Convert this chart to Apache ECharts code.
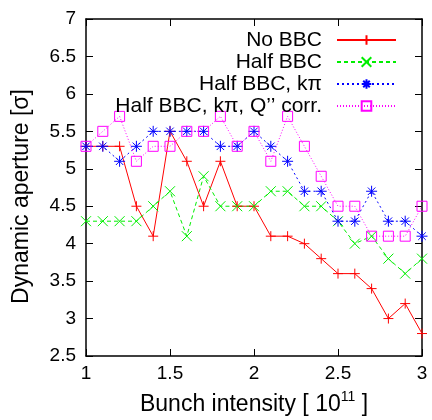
<!DOCTYPE html>
<html><head><meta charset="utf-8">
<script src="https://cdn.jsdelivr.net/npm/echarts@6/dist/echarts.min.js"></script>
<style>html,body{margin:0;padding:0;background:#fff}#c{width:432px;height:420px}</style>
</head><body><div id="c"></div>
<script>
const intensity = [1.0,1.1,1.2,1.3,1.4,1.5,1.6,1.7,1.8,1.9,2.0,2.1,2.2,2.3,2.4,2.5,2.6,2.7,2.8,2.9,3.0];
const noBBC   = [5.3,5.3,5.3,4.5,4.1,5.5,5.1,4.5,5.1,4.5,4.5,4.1,4.1,4.0,3.8,3.6,3.6,3.4,3.0,3.2,2.8];
const halfBBC = [4.3,4.3,4.3,4.3,4.5,4.7,4.1,4.9,4.5,4.5,4.5,4.7,4.7,4.5,4.5,4.3,4.0,4.1,3.8,3.6,3.8];
const halfKpi = [5.3,5.3,5.1,5.3,5.5,5.5,5.5,5.5,5.3,5.3,5.5,5.3,5.1,4.7,4.7,4.3,4.3,4.7,4.3,4.3,4.1];
const halfKpiQ= [5.3,5.5,5.7,5.1,5.3,5.3,5.5,5.5,5.7,5.3,5.5,5.1,5.7,5.3,4.9,4.5,4.5,4.1,4.1,4.1,4.5];
const seriesNames = ['No BBC','Half BBC','Half BBC, k\u03c0','Half BBC, k\u03c0, Q\u2019\u2019 corr.'];
const xTicks = {min:1, max:3, step:0.5};
const yTicks = {min:2.5, max:7, step:0.5};

const FONT = '"Liberation Sans", Arial, Helvetica, sans-serif';
const pair = a => intensity.map((x,i)=>[x,a[i]]);
const PLUS = 'path://M5,0V10M0,5H10';
const CROSS = 'path://M0,0L10,10M10,0L0,10';
const STAR = 'path://M5,0V10M0,5H10M1.6,1.6L8.4,8.4M8.4,1.6L1.6,8.4';

function mk(name, data, color, sym, size, dash, fill){
  return {
    name, type:'line', data:pair(data), symbol:sym, symbolSize:size,
    lineStyle:{color, width:1, type:dash},
    itemStyle:{color: fill, borderColor:color, borderWidth:1},
    emphasis:{disabled:true}, animation:false, z: 2
  };
}
const chart = echarts.init(document.getElementById('c'), null, {renderer:'canvas'});
const axisCommon = {
  axisLine:{show:true, onZero:false, lineStyle:{color:'#000', width:1.5}},
  axisTick:{show:true, inside:true, length:7, lineStyle:{color:'#000', width:1}},
  splitLine:{show:false}
};
chart.setOption({
  animation:false,
  grid:{left:86, right:10, top:19, bottom:64, containLabel:false, outerBoundsMode:'none'},
  legend:{
    orient:'vertical', align:'right', right:30, top:24,
    itemWidth:59, itemHeight:12, itemGap:0,
    textStyle:{fontFamily:FONT, fontSize:21, color:'#000', lineHeight:22, padding:[0,10,0,0]},
    data:seriesNames
  },
  xAxis:[
    Object.assign({type:'value', min:xTicks.min, max:xTicks.max, interval:xTicks.step, position:'bottom',
      name:'{a|Bunch intensity [ 10}{s|11}{a| ]}', nameLocation:'middle', nameGap:34,
      nameTextStyle:{rich:{
        a:{fontFamily:FONT, fontSize:23, color:'#000', lineHeight:26, verticalAlign:'bottom'},
        s:{fontFamily:FONT, fontSize:14, color:'#000', lineHeight:12, verticalAlign:'top'}}},
      axisLabel:{fontFamily:FONT, fontSize:19, color:'#000', margin:8}}, axisCommon),
    Object.assign({type:'value', min:xTicks.min, max:xTicks.max, interval:xTicks.step, position:'top',
      axisLabel:{show:false}}, axisCommon)
  ],
  yAxis:[
    Object.assign({type:'value', min:yTicks.min, max:yTicks.max, interval:yTicks.step, position:'left',
      name:'{a|Dynamic aperture [\u03c3]}{p|}', nameLocation:'middle', nameGap:53, nameRotate:90,
      nameTextStyle:{rich:{a:{fontFamily:FONT, fontSize:23, color:'#000'}, p:{width:18, fontSize:23}}},
      axisLabel:{fontFamily:FONT, fontSize:19, color:'#000', margin:10}}, axisCommon),
    Object.assign({type:'value', min:yTicks.min, max:yTicks.max, interval:yTicks.step, position:'right',
      axisLabel:{show:false}}, axisCommon)
  ],
  series:[
    mk(seriesNames[0], noBBC, '#ff0000', PLUS, 10, 'solid', '#ff0000'),
    mk(seriesNames[1], halfBBC, '#00ee00', CROSS, 10, [4,3], '#00ee00'),
    mk(seriesNames[2], halfKpi, '#0000ff', STAR, 11, [2,3], '#0000ff'),
    mk(seriesNames[3], halfKpiQ, '#ff00ff', 'rect', 10, [1,2], 'rgba(0,0,0,0)')
  ]
});
</script></body></html>
